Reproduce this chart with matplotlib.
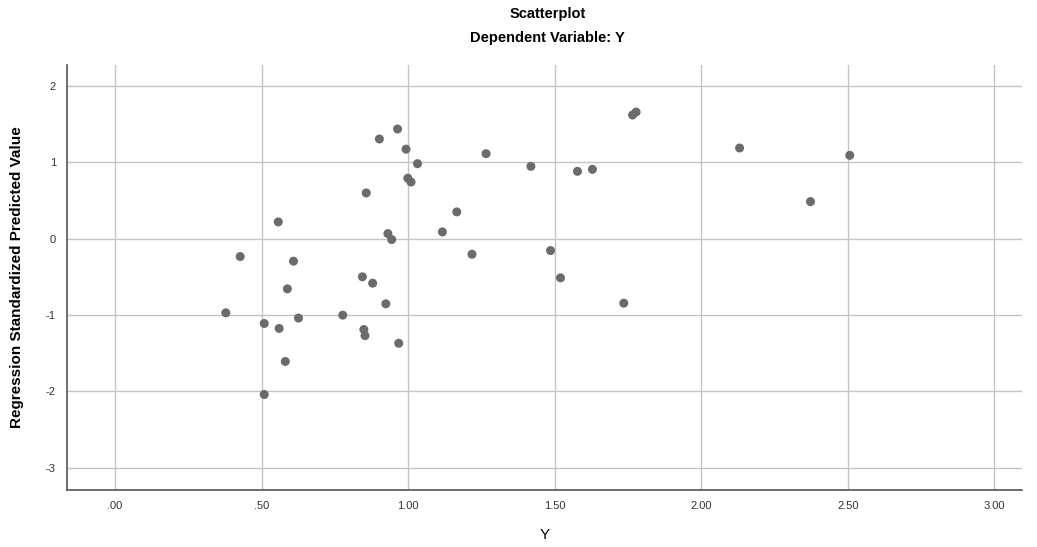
import matplotlib
matplotlib.use('Agg')
import matplotlib.pyplot as plt

plt.rcParams['font.family'] = ['Liberation Sans', 'DejaVu Sans']
plt.rcParams['axes.unicode_minus'] = False

y_obs = [0.964, 0.902, 0.993, 1.032, 0.999, 1.010, 0.857, 1.166, 0.557, 1.117,
         0.931, 0.944, 0.427, 0.609, 0.844, 0.879, 0.588, 0.924, 0.378, 0.777,
         0.509, 0.626, 0.560, 0.849, 0.853, 0.968, 0.581, 0.509, 1.266, 1.419,
         1.578, 1.629, 1.766, 1.778, 2.131, 1.218, 1.486, 1.520, 1.736, 2.507,
         2.373]
pred_std = [1.434, 1.303, 1.170, 0.980, 0.790, 0.740, 0.597, 0.349, 0.218, 0.087,
            0.065, -0.013, -0.235, -0.296, -0.500, -0.584, -0.658, -0.854, -0.972, -1.002,
            -1.111, -1.040, -1.176, -1.190, -1.270, -1.370, -1.608, -2.040, 1.111, 0.945,
            0.880, 0.906, 1.617, 1.656, 1.185, -0.205, -0.157, -0.514, -0.845, 1.089,
            0.484]

x_ticks = [0, 0.5, 1.0, 1.5, 2.0, 2.5, 3.0]
x_labels = ['.00', '.50', '1.00', '1.50', '2.00', '2.50', '3.00']
y_ticks = [-3, -2, -1, 0, 1, 2]

fig = plt.figure(figsize=(10.37, 5.47), dpi=100)
ax = fig.add_axes([0.0646, 0.1042, 0.921, 0.7768])

ax.scatter(y_obs, pred_std, s=42, color='#6b6b6b', edgecolors='none', zorder=3)

ax.set_xlim(-0.164, 3.095)
ax.set_ylim(-3.29, 2.27)
ax.set_xticks(x_ticks)
ax.set_xticklabels(x_labels)
ax.set_yticks(y_ticks)
ax.grid(True, color='#c4c4c4', linewidth=1.0)
ax.set_axisbelow(True)
ax.tick_params(length=0, labelsize=8, colors='#333333', pad=8)

for s in ['top', 'right']:
    ax.spines[s].set_visible(False)
for s in ['left', 'bottom']:
    ax.spines[s].set_color('#555555')
    ax.spines[s].set_linewidth(1.2)

ax.set_xlabel('Y', fontsize=11, labelpad=12)
ax.set_ylabel('Regression Standardized Predicted Value', fontsize=11,
              fontweight='bold', labelpad=16)

fig.text(0.528, 0.975, 'Scatterplot', ha='center', va='center',
         fontsize=10.5, fontweight='bold')
fig.text(0.528, 0.930, 'Dependent Variable: Y', ha='center', va='center',
         fontsize=10.5, fontweight='bold')

fig.savefig('out.png', dpi=100)
